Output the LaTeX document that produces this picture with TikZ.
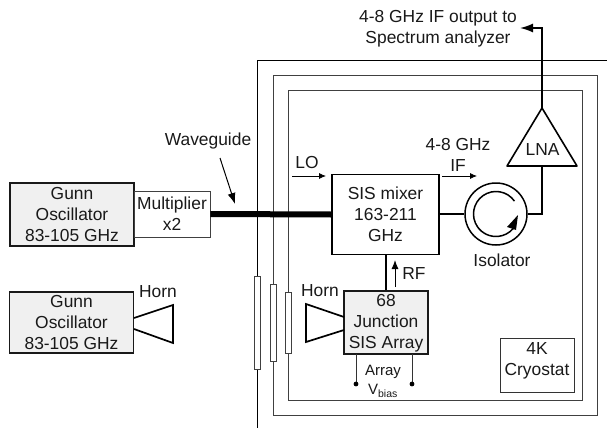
\documentclass[tikz,border=0pt]{standalone}
\usepackage{fontspec}
\setmainfont{Liberation Sans}
\usetikzlibrary{arrows.meta}
\tikzset{x=1pt,y=-1pt,
 txt/.style={inner sep=0pt,font=\fontsize{17.4}{20.8}\selectfont,align=center,text=black!90},
 small/.style={txt,font=\fontsize{15}{17}\selectfont},
 gbox/.style={draw=black!90,line width=1.4pt,fill=black!6,inner sep=0pt},
 wall/.style={draw=black!75,line width=0.8pt},
 win/.style={draw=black!75,fill=white,line width=0.8pt},
 wire/.style={draw=black,line width=1.6pt},
 thinwire/.style={draw=black!80,line width=0.9pt},
 flow/.style={draw=black,line width=0.8pt,-{Latex[length=7pt,width=6pt]}}}
\begin{document}
\begin{tikzpicture}
\useasboundingbox (0,0) rectangle (607,428);
% walls
\draw[wall,black] (607,60) -- (257,60) -- (257,428);
\draw[wall] (273,284) -- (273,75) -- (597.5,75) -- (597.5,415) -- (273,415) -- (273,361);
\draw[wall] (288,292) -- (288,90.5) -- (582,90.5) -- (582,400) -- (288,400) -- (288,353);
\draw[win] (254,276) rectangle (260,369);
\draw[win] (270,284) rectangle (276,361);
\draw[win] (285,292) rectangle (291,353);
% nodes
\node[gbox,minimum width=124pt,minimum height=63pt,txt] (g1) at (72,214.5) {Gunn\\Oscillator\\83-105 GHz};
\node[draw=black!75,line width=0.8pt,fill=white,minimum width=76pt,minimum height=46pt,txt] (mul) at (172,214) {Multiplier\\x2};
\node[gbox,minimum width=124pt,minimum height=61pt,txt] (g2) at (71.5,322.5) {Gunn\\Oscillator\\83-105 GHz};
\node[draw=black,line width=1.7pt,fill=white,minimum width=107pt,minimum height=80pt,txt] (mix) at (385.5,214.5) {SIS mixer\\163-211\\GHz};
\node[gbox,line width=1.7pt,minimum width=84pt,minimum height=63pt] (arr) at (386,322.5) {};
\node[txt] at (386,323.5) {68\\Junction\\SIS Array};
\node[draw=black!80,line width=0.8pt,fill=white,minimum width=74pt,minimum height=54pt] (cry) at (537,365) {};
\node[txt] at (537,360.5) {4K\\Cryostat};
% waveguide
\draw[black,line width=6pt] (mul.east) -- (mix.west);
% isolator
\node[circle,draw=black,line width=1.5pt,minimum size=62pt,inner sep=0pt] (iso) at (496,214) {};
\draw[black,line width=1.5pt] (iso.center) ++(-35:22.5) arc[start angle=-35,end angle=-320,radius=22.5];
\coordinate (ah1) at (518,215);\coordinate (ah2) at (507,227);\coordinate (ah3) at (516,230);
\fill[black] (ah1) -- (ah2) -- (ah3) -- cycle;
\draw[wire] (mix.east |- iso.west) -- (iso.west);
% LNA
\node[txt] (lna) at (542.5,149.5) {LNA};
\coordinate (apex) at (542,108);
\coordinate (lb) at (507,166);
\coordinate (rb) at (577,166);
\coordinate (lnab) at (542,166);
\coordinate (bend) at (542,214);
\coordinate (top) at (542,28);
\coordinate (tip) at (520,28);
\draw[wire,line join=round] (apex) -- (lb) -- (rb) -- cycle;
\draw[wire] (lnab) -- (bend) -- (iso.east);
\draw[wire,-{Latex[length=13pt,width=9pt]}] (apex) -- (top) -- (tip);
% array
\draw[wire] (mix.south -| arr.north) -- (arr.north);
\coordinate (h1) at (306,304);\coordinate (h2) at (344,317);\coordinate (h3) at (306,342);\coordinate (h4) at (344,330);
\draw[black,line width=1.7pt] (h2) -- (h1) -- (h3) -- (h4);
\coordinate (h5) at (173,305);\coordinate (h6) at (134,318);\coordinate (h7) at (173,343);\coordinate (h8) at (134,329);
\draw[black,line width=1.7pt] (h6) -- (h5) -- (h7) -- (h8);
% bias
\coordinate (v1t) at (356,354);\coordinate (v1) at (356,384);
\coordinate (v2t) at (412,354);\coordinate (v2) at (412,384);
\draw[thinwire] (v1t) -- (v1); \draw[thinwire] (v2t) -- (v2);
\fill[black] (v1) circle (2.4); \fill[black] (v2) circle (2.4);
% flow arrows
\coordinate (lo1) at (292,176);\coordinate (lo2) at (326,176);
\draw[flow] (lo1) -- (lo2);
\coordinate (if1) at (442,176);\coordinate (if2) at (477,176);
\draw[flow] (if1) -- (if2);
\coordinate (rf1) at (395,287);\coordinate (rf2) at (395,260);
\draw[black,line width=1pt,-{Latex[length=9pt,width=7pt]}] (rf1) -- (rf2);
\coordinate (wg1) at (220,158);\coordinate (wg2) at (235,204);
\draw[black,line width=1pt,-{Latex[length=11pt,width=8pt]}] (wg1) -- (wg2);
% labels
\node[txt] at (208,141) {Waveguide};
\node[txt] at (158,291.5) {Horn};
\node[txt] at (320,291) {Horn};
\node[txt] at (307,163) {LO};
\node[txt] at (458,145) {4-8 GHz};
\node[txt] at (458,166) {IF};
\node[txt] at (502,260) {Isolator};
\node[txt] at (414,274) {RF};
\node[small] at (383,372) {Array};
\node[small] at (383,391) {V\textsubscript{bias}};
\node[txt] at (438,28.5) {4-8 GHz IF output to\\Spectrum analyzer};
\end{tikzpicture}
\end{document}
